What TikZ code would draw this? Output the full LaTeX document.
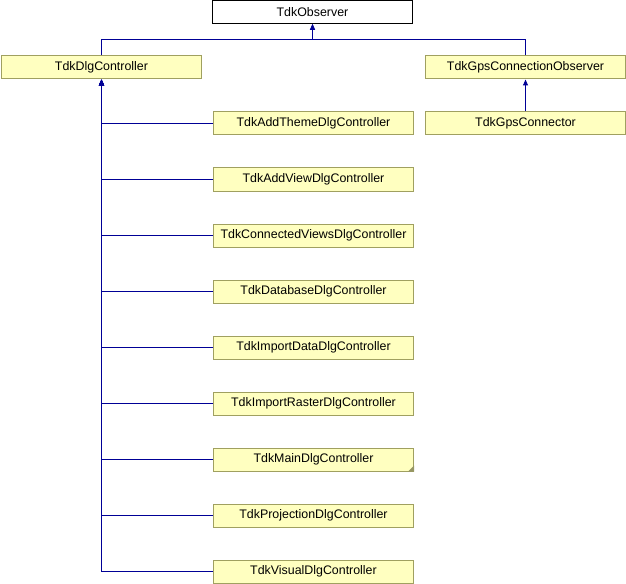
\documentclass[tikz,border=0pt]{standalone}
\usepackage{fontspec}
\setmainfont{Liberation Sans}
\usetikzlibrary{arrows.meta}
\definecolor{edgeblue}{RGB}{0,0,150}
\definecolor{boxfill}{RGB}{255,255,192}
\definecolor{boxdraw}{RGB}{160,160,96}
\definecolor{foldcol}{RGB}{150,150,100}
\tikzset{
  cls/.style={draw=boxdraw, fill=boxfill, line width=1bp, minimum width=200bp, minimum height=23bp, inner sep=0pt, font=\fontsize{12.4bp}{14bp}\selectfont},
  root/.style={cls, draw=black, fill=white},
  inh/.style={draw=edgeblue, line width=1bp, -{Triangle[length=6bp,width=5bp]}},
}
\begin{document}
\begin{tikzpicture}[x=1bp,y=-1bp]
\useasboundingbox (0,0) rectangle (626,584);
\node[root] (obs) at (312.5,12) {TdkObserver};
\node[cls] (dlg) at (101.5,67.5) {TdkDlgController};
\node[cls] (gpso) at (525.5,67.5) {TdkGpsConnectionObserver};
\node[cls] (gpsc) at (525.5,123.5) {TdkGpsConnector};
\node[cls] (c1) at (313.5,123.5) {TdkAddThemeDlgController};
\node[cls] (c2) at (313.5,179.5) {TdkAddViewDlgController};
\node[cls] (c3) at (313.5,235.5) {TdkConnectedViewsDlgController};
\node[cls] (c4) at (313.5,291.5) {TdkDatabaseDlgController};
\node[cls] (c5) at (313.5,347.5) {TdkImportDataDlgController};
\node[cls] (c6) at (313.5,403.5) {TdkImportRasterDlgController};
\node[cls] (c7) at (313.5,459.5) {TdkMainDlgController};
\node[cls] (c8) at (313.5,515.5) {TdkProjectionDlgController};
\node[cls] (c9) at (313.5,571.5) {TdkVisualDlgController};
\fill[foldcol] (c7.south east) -- ++(0,-6) -- ++(-6,6) -- cycle;
\draw[inh] (dlg.north) -- ++(0,-16) -| (obs.south);
\draw[inh] (gpso.north) -- ++(0,-16) -| (obs.south);
\draw[inh] (gpsc.north) -- (gpso.south);
\foreach \c in {c1,c2,c3,c4,c5,c6,c7,c8,c9}
  \draw[inh] (\c.west) -| (dlg.south);
\end{tikzpicture}
\end{document}
